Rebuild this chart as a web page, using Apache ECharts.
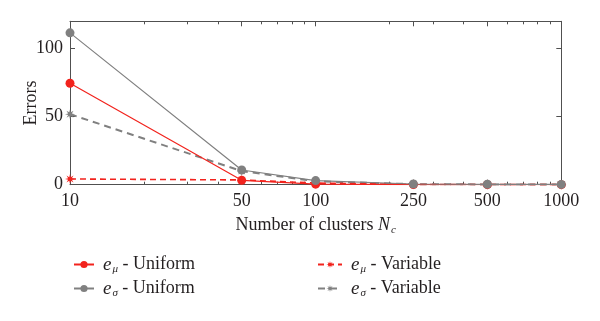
<!DOCTYPE html>
<html><head><meta charset="utf-8">
<script src="https://cdn.jsdelivr.net/npm/echarts@6/dist/echarts.min.js"></script>
<style>html,body{margin:0;padding:0;background:#fff}#c{width:600px;height:321px}</style>
</head><body><div id="c"></div>
<script>
// ---- data ----
const clusters = [10, 50, 100, 250, 500, 1000];
const xTickLabels = [10, 50, 100, 250, 500, 1000];
const xMinorTicks = [20, 30, 40, 60, 70, 80, 90, 200, 300, 400, 600, 700, 800, 900];
const yTickLabels = [0, 50, 100];
const muUniform = [74.5, 3.2, 0.4, 0.1, 0.05, 0.05];
const sigmaUniform = [111.5, 10.8, 3.0, 0.5, 0.3, 0.2];
const muVariable = [4.2, 3.5, 1.2, 0.2, 0.1, 0.05];
const sigmaVariable = [51.8, 10.0, 2.5, 0.4, 0.2, 0.1];
const seriesNames = ['mu_uniform', 'sigma_uniform', 'mu_variable', 'sigma_variable'];

// ---- styling ----
const FONT = 'Liberation Serif';
const FS = 18;
const TXT = '#231f20';
const AX = '#505050';
const RED = '#f2231d';
const GRAY = '#808080';

function starPath() {
  let p = [];
  for (let k = 0; k < 16; k++) {
    const a = k * Math.PI / 8 - Math.PI / 2;
    const r = k % 2 === 0 ? 10 : 4;
    p.push((k === 0 ? 'M' : 'L') + (r * Math.cos(a)).toFixed(2) + ' ' + (r * Math.sin(a)).toFixed(2));
  }
  return 'path://' + p.join(' ') + ' Z';
}
const STAR = starPath();

const pairs = v => clusters.map((x, i) => [x, v[i]]);

const grid = { left: 70, right: 38.7, top: 21.3, bottom: 136.3 };

function xAx(pos, ticks, len, showLine, labels, name) {
  return {
    type: 'log', logBase: 10, min: 10, max: 1000, position: pos,
    gridIndex: 0,
    axisLine: { show: showLine, lineStyle: { color: AX, width: 1 } },
    axisTick: { show: true, inside: true, length: len, customValues: ticks, lineStyle: { color: AX } },
    minorTick: { show: false },
    splitLine: { show: false },
    axisLabel: labels ? { show: true, customValues: xTickLabels, margin: 8, formatter: v => String(Math.round(v)),
      fontFamily: FONT, fontSize: FS, color: TXT } : { show: false },
    name: name || '',
    nameLocation: 'middle', nameGap: 30, nameMoveOverlap: false,
    nameTextStyle: { fontFamily: FONT, fontSize: FS, color: TXT,
      rich: { t: { fontFamily: FONT, fontSize: FS, color: TXT },
              n: { fontFamily: FONT, fontSize: FS, color: TXT, fontStyle: 'italic' },
              s: { fontFamily: FONT, fontSize: 11, color: TXT, fontStyle: 'italic', padding: [10, 0, 0, 1] } } }
  };
}

const legendRich = {
  e: { fontFamily: FONT, fontSize: 19, fontStyle: 'italic', color: TXT, padding: [0, 0, 0, 4] },
  s: { fontFamily: FONT, fontSize: 11, fontStyle: 'italic', color: TXT, padding: [10, 0, 0, 1] },
  t: { fontFamily: FONT, fontSize: FS, color: TXT }
};
const legendText = {
  mu_uniform: '{e|e}{s|μ}{t| - Uniform}',
  sigma_uniform: '{e|e}{s|σ}{t| - Uniform}',
  mu_variable: '{e|e}{s|μ}{t| - Variable}',
  sigma_variable: '{e|e}{s|σ}{t| - Variable}'
};

const option = {
  animation: false,
  backgroundColor: '#ffffff',
  grid: grid,
  legend: [
    { data: [seriesNames[0], seriesNames[1]], orient: 'vertical', left: 68, top: 250, itemWidth: 20, itemHeight: 9, itemGap: 4,
      formatter: n => legendText[n], textStyle: { rich: legendRich } },
    { data: [seriesNames[2], seriesNames[3]], orient: 'vertical', left: 312, top: 250, itemWidth: 24, itemHeight: 9, itemGap: 4,
      formatter: n => legendText[n], textStyle: { rich: legendRich } }
  ],
  xAxis: [
    xAx('bottom', xTickLabels, 5, true, true, '{t|Number of clusters }{n|N}{s|c}'),
    xAx('bottom', xMinorTicks, 3, false, false),
    xAx('top', xTickLabels, 5, true, false),
    xAx('top', xMinorTicks, 3, false, false)
  ],
  yAxis: [
    { type: 'value', min: 0, max: 120, position: 'left',
      axisLine: { show: true, lineStyle: { color: AX } },
      axisTick: { show: true, inside: true, length: 5, customValues: yTickLabels, lineStyle: { color: AX } },
      splitLine: { show: false },
      axisLabel: { customValues: yTickLabels, margin: 7, fontFamily: FONT, fontSize: FS, color: TXT },
      name: 'Errors', nameLocation: 'middle', nameGap: 30, nameMoveOverlap: false,
      nameTextStyle: { fontFamily: FONT, fontSize: FS, color: TXT } },
    { type: 'value', min: 0, max: 120, position: 'right',
      axisLine: { show: true, lineStyle: { color: AX } },
      axisTick: { show: true, inside: true, length: 5, customValues: yTickLabels, lineStyle: { color: AX } },
      splitLine: { show: false },
      axisLabel: { show: false } }
  ],
  series: [
    { name: seriesNames[3], type: 'line', data: pairs(sigmaVariable), xAxisIndex: 0, yAxisIndex: 0,
      symbol: STAR, symbolSize: 10, z: 2,
      lineStyle: { color: GRAY, width: 2, type: [7, 5] }, itemStyle: { color: GRAY } },
    { name: seriesNames[2], type: 'line', data: pairs(muVariable), xAxisIndex: 0, yAxisIndex: 0,
      symbol: STAR, symbolSize: 10, z: 3,
      lineStyle: { color: RED, width: 1.6, type: [6, 4] }, itemStyle: { color: RED } },
    { name: seriesNames[0], type: 'line', data: pairs(muUniform), xAxisIndex: 0, yAxisIndex: 0,
      symbol: 'circle', symbolSize: 9, z: 4,
      lineStyle: { color: RED, width: 1.2 }, itemStyle: { color: RED } },
    { name: seriesNames[1], type: 'line', data: pairs(sigmaUniform), xAxisIndex: 0, yAxisIndex: 0,
      symbol: 'circle', symbolSize: 9, z: 5,
      lineStyle: { color: GRAY, width: 1.2 }, itemStyle: { color: GRAY } }
  ]
};
const chart = echarts.init(document.getElementById('c'), null, { renderer: 'canvas' });
chart.setOption(option);
</script>
</body></html>
